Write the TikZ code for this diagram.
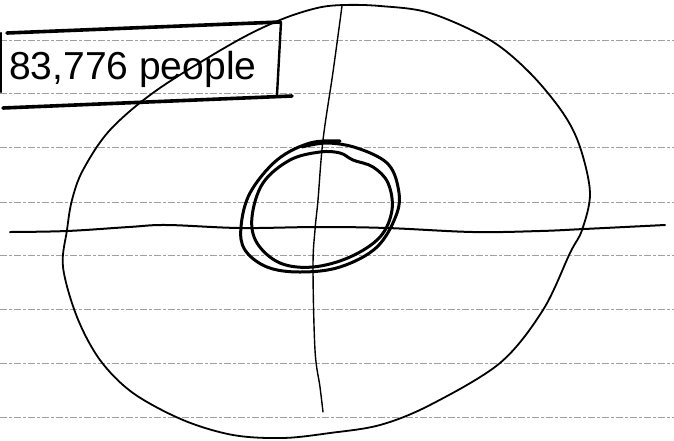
\documentclass[tikz,border=0pt]{standalone}
\usepackage{fontspec}
\setmainfont{Liberation Sans}
\begin{document}
\begin{tikzpicture}[x=1pt,y=-1pt,
  ruled/.style={gray!75,line width=0.7pt,dash pattern=on 7pt off 2pt on 3pt off 2pt},
  pen/.style={black,line cap=round,line join=round},
  thinpen/.style={pen,line width=1.8pt},
  thickpen/.style={pen,line width=3pt},
  boxpen/.style={pen,line width=3.6pt}]
\useasboundingbox[fill=white] (0,0) rectangle (674,440);
% ruled paper lines
\foreach \yy in {40,93,147,202,255,309,363,417}
  \draw[ruled] (0,\yy) -- (674,\yy);
% label box
\draw[boxpen] (7,33) -- (280,22);
\draw[boxpen] (3,108) -- (292,96);
\draw[pen,line width=2.4pt] (281,22) -- (277,95);
\draw[pen,line width=2.4pt] (1,33) -- (1,92);
\node[anchor=base west,inner sep=0pt,font=\fontsize{39}{39}\selectfont] (label) at (9,79) {83,776 people};
% big outer ring
\draw[thinpen] plot[smooth cycle,tension=0.55] coordinates {
 (317,8) (344,5) (380,6) (430,13) (490,40) (530,73) (563,113) (580,147)
 (590,193) (582,230) (570,253) (543,310) (500,363) (430,405) (380,425)
 (330,433) (283,438) (233,435) (183,420) (133,393) (100,360) (77,317)
 (63,267) (67,230) (72,200) (83,170) (110,130) (157,90) (233,43) (280,20)};
% vertical axis
\draw[pen,line width=1.4pt] plot[smooth,tension=0.6] coordinates {
 (342,6) (333,72) (323,140) (318,200) (315,230) (313,267) (315,350) (320,387) (323,412)};
% horizontal axis
\draw[pen,line width=2pt] plot[smooth,tension=0.6] coordinates {
 (10,232) (67,231) (129,227) (167,225) (240,228) (318,227) (387,228)
 (473,232) (540,231) (584,229) (665,225)};
% inner double circle
\draw[thickpen] plot[smooth,tension=0.6] coordinates {
 (340,141) (310,143) (277,160) (250,193) (241,227) (245,250) (267,267)
 (300,272) (340,267) (377,247) (397,213) (398,187) (387,163) (357,148)
 (327,143) (302,147)};
\draw[thickpen] plot[smooth cycle,tension=0.6] coordinates {
 (320,152) (290,160) (263,183) (252,217) (257,243) (280,263) (313,267)
 (350,257) (380,237) (392,210) (388,183) (373,167) (353,160) (340,153)};
\end{tikzpicture}
\end{document}
